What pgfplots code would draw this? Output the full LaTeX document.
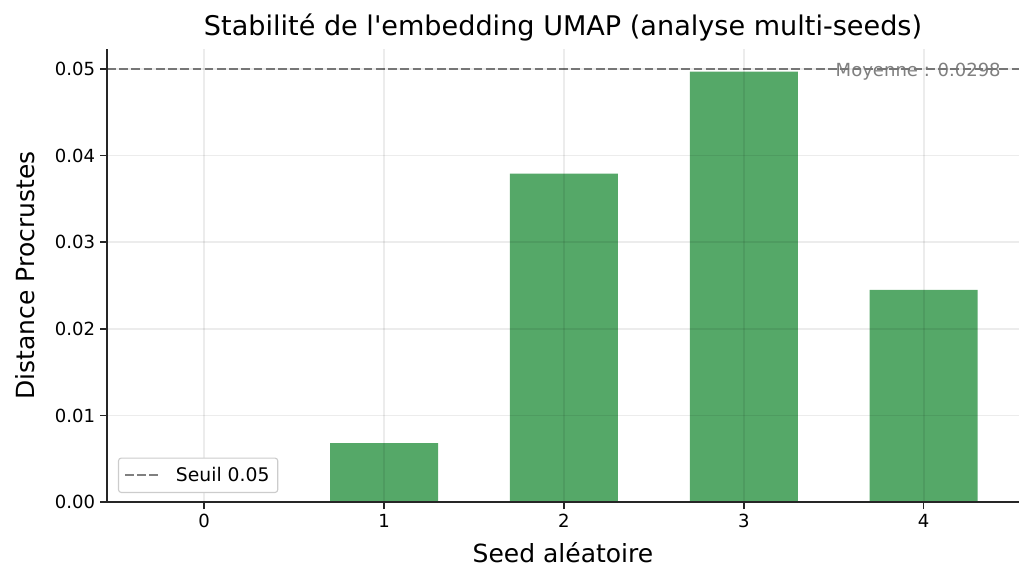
\documentclass[border=0pt]{standalone}
\usepackage{fontspec}
\setmainfont{DejaVu Sans}
\newfontfamily\plainfont{DejaVu Sans}
\usepackage{pgfplots}
\pgfplotsset{compat=1.18}
\definecolor{bargreen}{HTML}{55A868}
\definecolor{refgray}{HTML}{808080}

\pgfplotstableread{
seed dist
0 0.0000
1 0.0068
2 0.0379
3 0.0497
4 0.0245
}\seeds

\begin{document}
\begin{tikzpicture}
\begin{axis}[
    name=ax,
    scale only axis,
    width=656.6bp, height=326.2bp,
    xmin=-0.54, xmax=4.53,
    ymin=0, ymax=0.0523,
    axis x line*=bottom, axis y line*=left,
    axis line style={line width=1.1bp, black!85},
    xtick={0,1,2,3,4},
    ytick={0,0.01,0.02,0.03,0.04,0.05},
    scaled y ticks=false,
    y tick label style={/pgf/number format/fixed,
        /pgf/number format/fixed zerofill,
        /pgf/number format/precision=2},
    /pgf/number format/assume math mode=true,
    tick align=outside,
    major tick length=5bp,
    tick style={line width=1.1bp, black!85},
    ticklabel style={font=\fontsize{13bp}{16bp}\selectfont},
    grid=major,
    major grid style={line width=1.2bp, black, opacity=0.075},
    axis on top,
    title={Stabilité de l{\plainfont'}embedding UMAP (analyse multi-seeds)},
    title style={font=\fontsize{19.5bp}{23bp}\selectfont, yshift=-4bp},
    xlabel={Seed aléatoire},
    ylabel={Distance Procrustes},
    label style={font=\fontsize{18bp}{21bp}\selectfont},
    xlabel style={yshift=-4bp},
    ylabel style={yshift=8bp},
    legend style={at={(0.012,0.02)}, anchor=south west,
        draw=black!20, rounded corners=2bp, line width=0.8bp,
        font=\fontsize{13.5bp}{16bp}\selectfont,
        inner xsep=4bp, inner ysep=4.5bp},
    legend image code/.code={\draw[#1] (0bp,0bp) -- (24bp,0bp); \path (34bp,0bp);},
    legend cell align=left,
]
\addplot[ybar, bar width=108*0.72bp, fill=bargreen, draw=none, forget plot]
    table[x=seed, y=dist] {\seeds};
\addplot[refgray, line width=1.4bp, dash pattern=on 6.2bp off 2.6bp]
    coordinates {(-0.54,0.05) (4.53,0.05)};
\addlegendentry{Seuil 0.05}
\node[anchor=east, text=refgray, font=\fontsize{13bp}{16bp}\selectfont, inner sep=0pt]
    at (axis cs:4.43,0.04965) {Moyenne : 0.0298};
\end{axis}
\pgfresetboundingbox
\path (ax.south west) ++(-77.04bp,-59.76bp) coordinate (bl);
\path (ax.north east) ++(11.52bp,35.28bp) coordinate (tr);
\path[use as bounding box] (bl) rectangle (tr);
\end{tikzpicture}
\end{document}
